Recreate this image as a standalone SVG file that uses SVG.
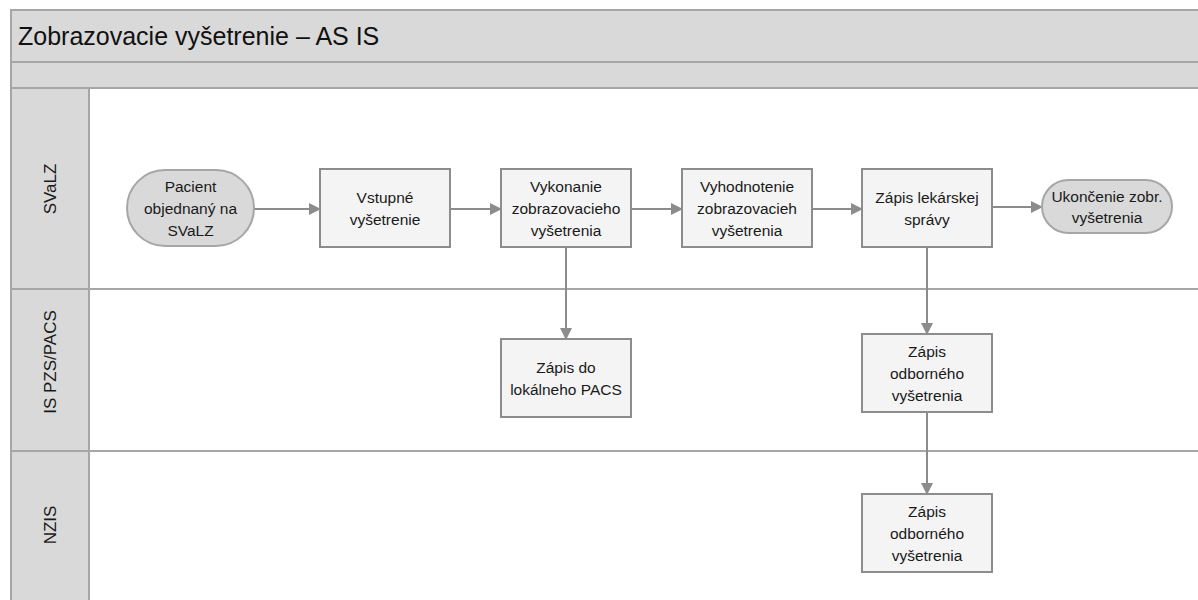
<svg xmlns="http://www.w3.org/2000/svg" width="1198" height="600" viewBox="0 0 1198 600">
  <defs>
    <style>
      .band { fill: #d9d9d9; stroke: #a6a6a6; stroke-width: 2; }
      .lane { fill: #ffffff; stroke: #a6a6a6; stroke-width: 2; }
      .box { fill: #f4f4f4; stroke: #8c8c8c; stroke-width: 2; }
      .term { fill: #d9d9d9; stroke: #a6a6a6; stroke-width: 2; }
      .lbl { font-family: "Liberation Sans", Arial, sans-serif; font-size: 15.5px; fill: #1a1a1a; text-anchor: middle; }
      .lane-lbl { font-family: "Liberation Sans", Arial, sans-serif; font-size: 17px; fill: #1a1a1a; text-anchor: middle; }
      .title { font-family: "Liberation Sans", Arial, sans-serif; font-size: 25px; fill: #111111; }
      .conn { fill: none; stroke: #8c8c8c; stroke-width: 2; marker-end: url(#arrow); }
    </style>
    <marker id="arrow" viewBox="0 0 12 12" refX="11" refY="6" markerWidth="12" markerHeight="12" markerUnits="userSpaceOnUse" orient="auto">
      <path d="M0,0 L12,6 L0,12 z" fill="#8c8c8c"/>
    </marker>
  </defs>

  <!-- pool frame -->
  <g id="pool">
    <rect class="band" x="11" y="10" width="1200" height="52"/>
    <rect class="band" x="11" y="62" width="1200" height="26"/>
    <rect class="lane" x="89" y="88" width="1120" height="201"/>
    <rect class="lane" x="89" y="289" width="1120" height="162"/>
    <rect class="lane" x="89" y="451" width="1120" height="160"/>
    <rect class="band" x="11" y="88" width="78" height="201"/>
    <rect class="band" x="11" y="289" width="78" height="162"/>
    <rect class="band" x="11" y="451" width="78" height="160"/>
    <text class="title" x="18" y="45">Zobrazovacie vyšetrenie – AS IS</text>
    <text class="lane-lbl" transform="translate(56,189) rotate(-90)">SVaLZ</text>
    <text class="lane-lbl" transform="translate(56,362) rotate(-90)">IS PZS/PACS</text>
    <text class="lane-lbl" transform="translate(56,525) rotate(-90)">NZIS</text>
  </g>

  <!-- connectors -->
  <g id="connectors">
    <path class="conn" d="M254,209 L320,209"/>
    <path class="conn" d="M450,209 L501,209"/>
    <path class="conn" d="M631,209 L682,209"/>
    <path class="conn" d="M812,209 L862,209"/>
    <path class="conn" d="M992,207 L1042,207"/>
    <path class="conn" d="M566,247 L566,339"/>
    <path class="conn" d="M927,247 L927,334"/>
    <path class="conn" d="M927,412 L927,494"/>
  </g>

  <g id="start">
    <rect class="term" x="127" y="170" width="127" height="76" rx="38"/>
    <text class="lbl" x="190.5" y="192">Pacient</text>
    <text class="lbl" x="190.5" y="214">objednaný na</text>
    <text class="lbl" x="190.5" y="236">SVaLZ</text>
  </g>

  <g id="vstupne">
    <rect class="box" x="320" y="169" width="130" height="78"/>
    <text class="lbl" x="385" y="203">Vstupné</text>
    <text class="lbl" x="385" y="225">vyšetrenie</text>
  </g>

  <g id="vykonanie">
    <rect class="box" x="501" y="169" width="130" height="78"/>
    <text class="lbl" x="566" y="192">Vykonanie</text>
    <text class="lbl" x="566" y="214">zobrazovacieho</text>
    <text class="lbl" x="566" y="236">vyšetrenia</text>
  </g>

  <g id="vyhodnotenie">
    <rect class="box" x="682" y="169" width="130" height="78"/>
    <text class="lbl" x="747" y="192">Vyhodnotenie</text>
    <text class="lbl" x="747" y="214">zobrazovacieh</text>
    <text class="lbl" x="747" y="236">vyšetrenia</text>
  </g>

  <g id="zapis-spravy">
    <rect class="box" x="862" y="169" width="130" height="78"/>
    <text class="lbl" x="927" y="203">Zápis lekárskej</text>
    <text class="lbl" x="927" y="225">správy</text>
  </g>

  <g id="end">
    <rect class="term" x="1042" y="180" width="130" height="53" rx="26.5"/>
    <text class="lbl" x="1107" y="202">Ukončenie zobr.</text>
    <text class="lbl" x="1107" y="223">vyšetrenia</text>
  </g>

  <g id="zapis-pacs">
    <rect class="box" x="501" y="339" width="130" height="78"/>
    <text class="lbl" x="566" y="373">Zápis do</text>
    <text class="lbl" x="566" y="395">lokálneho PACS</text>
  </g>

  <g id="zapis-odborneho-pzs">
    <rect class="box" x="862" y="334" width="130" height="78"/>
    <text class="lbl" x="927" y="357">Zápis</text>
    <text class="lbl" x="927" y="379">odborného</text>
    <text class="lbl" x="927" y="401">vyšetrenia</text>
  </g>

  <g id="zapis-odborneho-nzis">
    <rect class="box" x="862" y="494" width="130" height="78"/>
    <text class="lbl" x="927" y="517">Zápis</text>
    <text class="lbl" x="927" y="539">odborného</text>
    <text class="lbl" x="927" y="561">vyšetrenia</text>
  </g>
</svg>
